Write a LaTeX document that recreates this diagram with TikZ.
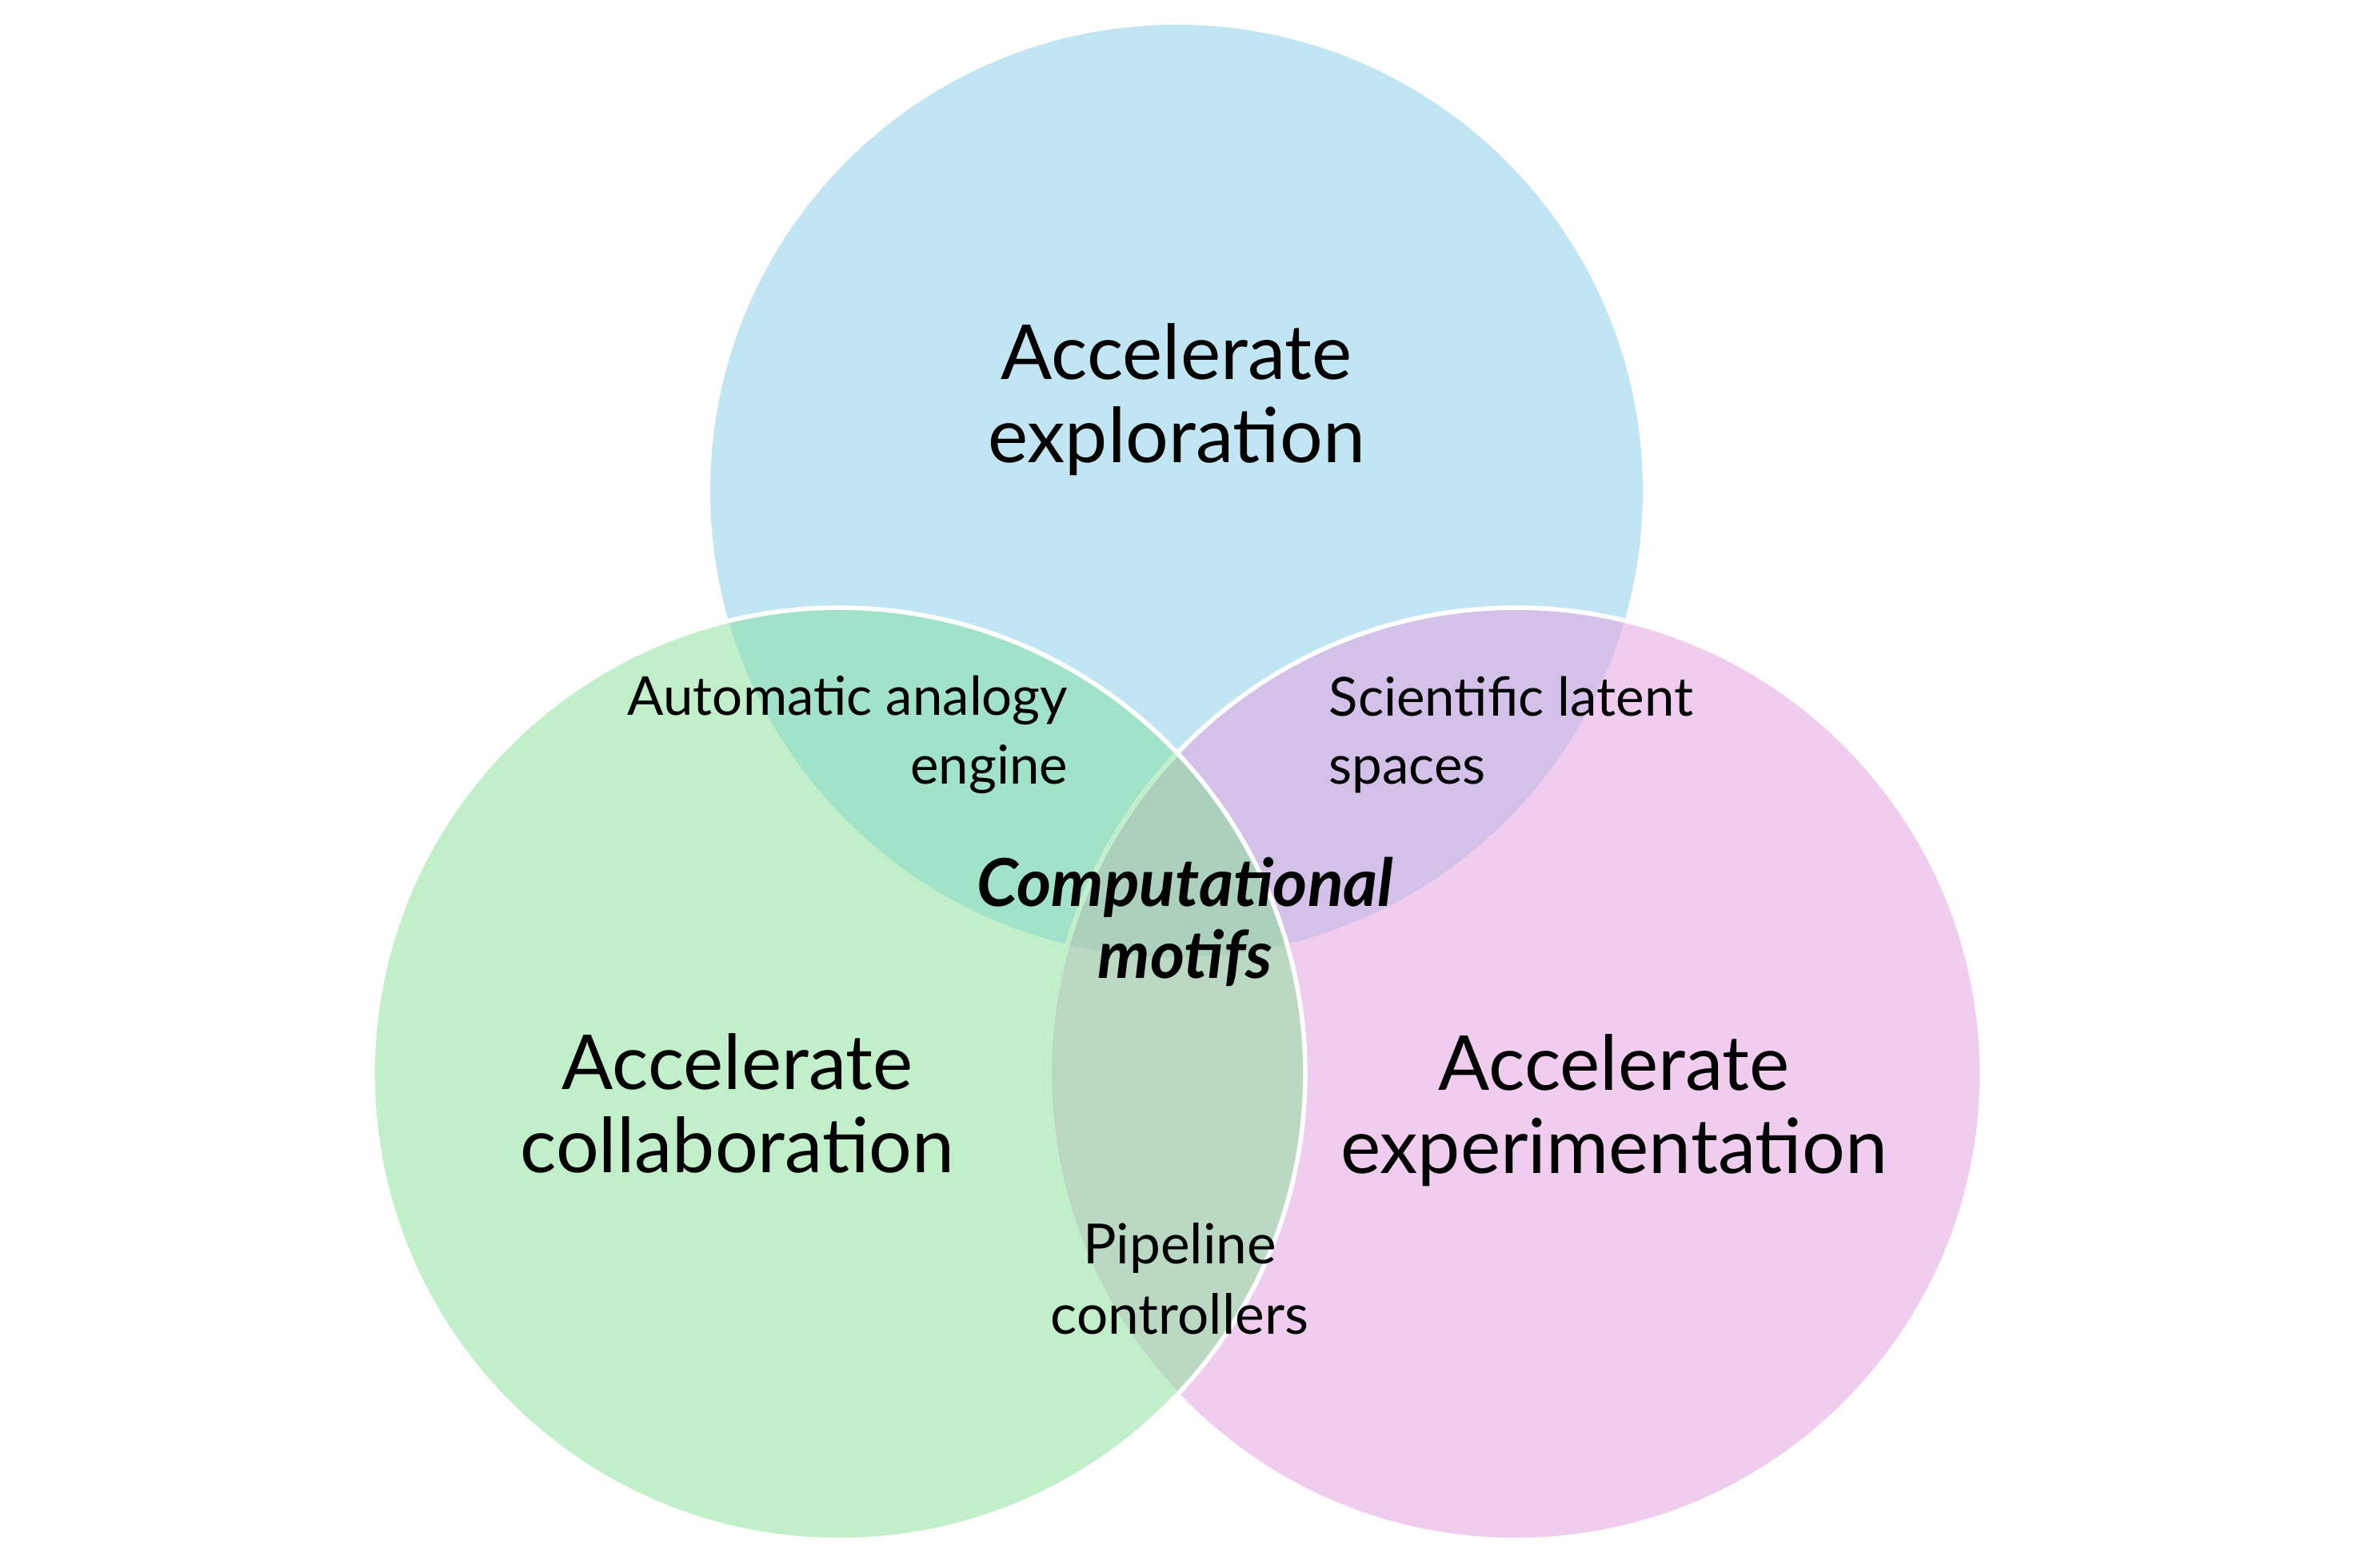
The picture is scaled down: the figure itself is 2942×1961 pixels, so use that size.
\documentclass[tikz,border=0pt]{standalone}
\usepackage{fontspec}
\setmainfont{Lato}
\definecolor{cblue}{HTML}{C2E5F3}
\definecolor{cgreen}{HTML}{C1EFCA}
\definecolor{cpink}{HTML}{F0CDEE}
\definecolor{cbg}{HTML}{A1E3C8}
\definecolor{cbp}{HTML}{D4C1E9}
\definecolor{cgp}{HTML}{BAD8C2}
\definecolor{call}{HTML}{ABD0BC}
\begin{document}
\begin{tikzpicture}[x=0.01cm,y=0.01cm,
  lbl/.style={inner sep=0pt, text=black},
  big/.style={lbl, font=\fontsize{27}{29.5}\selectfont, align=center},
  small/.style={lbl, font=\fontsize{19.1}{24.4}\selectfont},
  outline/.style={line width=1.6pt}]
\useasboundingbox (0,0) rectangle (2942,-1961);
\fill[white] (0,0) rectangle (2942,-1961);
\coordinate (cb) at (1471,-614);
\coordinate (cg) at (1049,-1343);
\coordinate (cp) at (1895,-1343);
\def\R{583}
% base fills
\fill[cblue] (cb) circle[radius=\R];
\fill[cpink] (cp) circle[radius=\R];
\fill[cgreen] (cg) circle[radius=\R];
% overlaps
\begin{scope}
  \clip (cb) circle[radius=\R];
  \fill[cbg] (cg) circle[radius=\R];
  \fill[cbp] (cp) circle[radius=\R];
\end{scope}
\begin{scope}
  \clip (cg) circle[radius=\R];
  \fill[cgp] (cp) circle[radius=\R];
  \begin{scope}
    \clip (cb) circle[radius=\R];
    \fill[call] (cp) circle[radius=\R];
  \end{scope}
\end{scope}
% outlines
\draw[white, outline] (cp) circle[radius=\R];
\begin{scope}
  \clip (cg) circle[radius=\R];
  \draw[cgreen, outline] (cp) circle[radius=\R];
\end{scope}
\draw[white, outline] (cg) circle[radius=\R];
% labels
\node[big] (explore) at (1471,-500) {Accelerate\\exploration};
\node[big] (collab) at (922,-1380) {Accelerate\\collaboration};
\node[big] (experim) at (2018,-1389) {Accelerate\\experimentation};
\node[small, align=right, anchor=east] (analogy) at (1336,-919) {Automatic analogy\\engine};
\node[small, align=left, anchor=west] (latent) at (1661,-919) {Scientific latent\\spaces};
\node[lbl, font=\fontsize{23.5}{25.5}\selectfont\bfseries\itshape, align=center] (motifs) at (1482,-1153) {Computational\\motifs};
\node[lbl, font=\fontsize{19.7}{24.9}\selectfont, align=center] (pipe) at (1475,-1599) {Pipeline\\controllers};
\end{tikzpicture}
\end{document}
